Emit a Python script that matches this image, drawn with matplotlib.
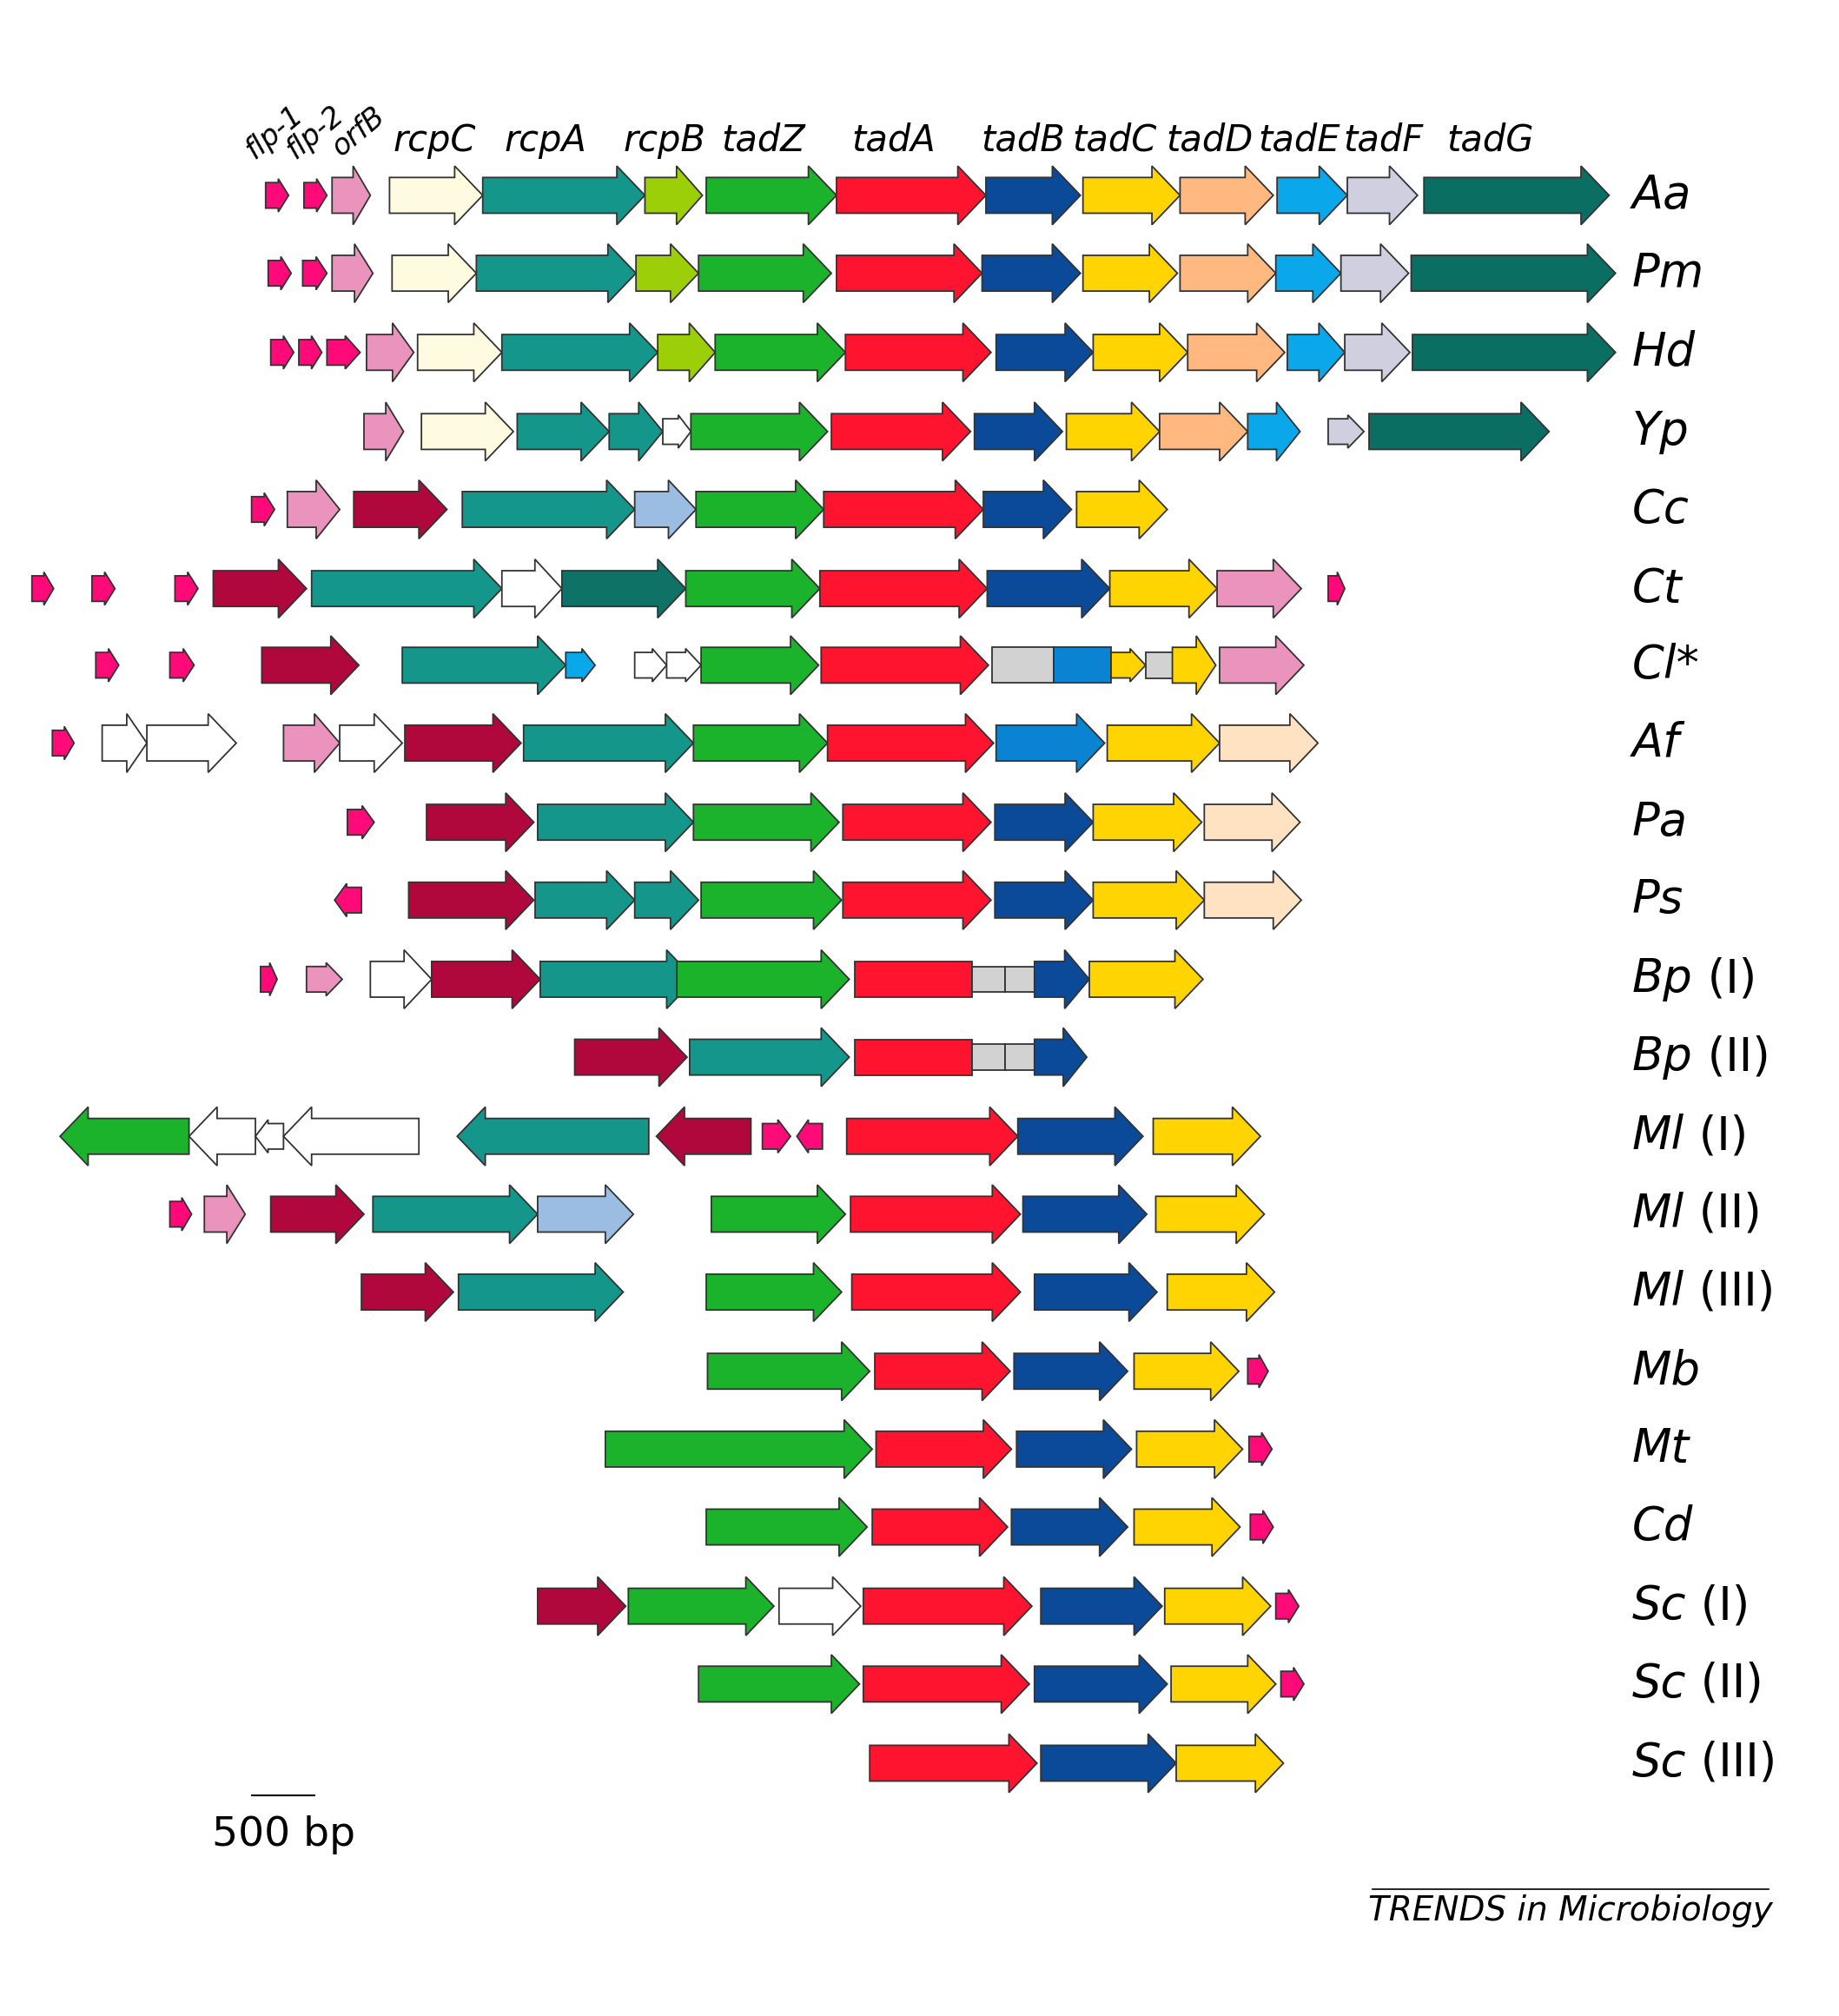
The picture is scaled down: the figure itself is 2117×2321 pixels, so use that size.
import matplotlib
matplotlib.use('Agg')
import matplotlib.pyplot as plt
from matplotlib.patches import Polygon

# colours
FLP = '#ff0a78'; ORFB = '#ea94bd'; RCPC = '#fffbe0'; RCPA = '#14968a'; RCPB = '#9dcf08'
TADZ = '#1cb32c'; TADA = '#ff1430'; TADB = '#0a4a98'; TADC = '#ffd400'; TADD = '#ffb880'
TADE = '#0aa8ea'; TADF = '#cfcfe0'; TADG = '#0a6e62'; DRED = '#b0083c'; LBLU = '#9cbde2'
WHT = '#ffffff'; GRY = '#d2d2d2'; LPCH = '#ffe2c2'; DTL = '#0e7266'; MBLU = '#0a84d2'

# species rows: (start, end, colour, direction) direction 1 right, -1 left, 0 box
rows = {
    'Aa': [(208, 226, FLP, 1), (238, 256, FLP, 1), (260, 290, ORFB, 1), (305, 378, RCPC, 1),
           (378, 505, RCPA, 1), (505, 550, RCPB, 1), (553, 655, TADZ, 1), (655, 772, TADA, 1),
           (772, 846, TADB, 1), (848, 924, TADC, 1), (924, 997, TADD, 1), (1000, 1055, TADE, 1),
           (1055, 1110, TADF, 1), (1115, 1260, TADG, 1)],
    'Pm': [(210, 228, FLP, 1), (237, 256, FLP, 1), (260, 292, ORFB, 1), (307, 373, RCPC, 1),
           (373, 498, RCPA, 1), (498, 547, RCPB, 1), (547, 651, TADZ, 1), (655, 769, TADA, 1),
           (769, 846, TADB, 1), (848, 922, TADC, 1), (924, 999, TADD, 1), (999, 1050, TADE, 1),
           (1050, 1103, TADF, 1), (1105, 1265, TADG, 1)],
    'Hd': [(212, 230, FLP, 1), (234, 252, FLP, 1), (256, 282, FLP, 1), (287, 324, ORFB, 1),
           (327, 393, RCPC, 1), (393, 515, RCPA, 1), (515, 560, RCPB, 1), (560, 662, TADZ, 1),
           (662, 776, TADA, 1), (780, 856, TADB, 1), (856, 930, TADC, 1), (930, 1006, TADD, 1),
           (1008, 1053, TADE, 1), (1053, 1104, TADF, 1), (1106, 1265, TADG, 1)],
    'Yp': [(285, 316, ORFB, 1), (330, 402, RCPC, 1), (405, 477, RCPA, 1), (477, 519, RCPA, 1),
           (519, 541, WHT, 1), (541, 648, TADZ, 1), (651, 760, TADA, 1), (763, 832, TADB, 1),
           (835, 908, TADC, 1), (908, 977, TADD, 1), (977, 1018, TADE, 1), (1040, 1068, TADF, 1),
           (1072, 1213, TADG, 1)],
    'Cc': [(197, 215, FLP, 1), (225, 266, ORFB, 1), (277, 350, DRED, 1), (362, 497, RCPA, 1),
           (497, 545, LBLU, 1), (545, 645, TADZ, 1), (645, 770, TADA, 1), (770, 839, TADB, 1),
           (843, 914, TADC, 1)],
    'Ct': [(25, 42, FLP, 1), (72, 90, FLP, 1), (137, 155, FLP, 1), (167, 240, DRED, 1),
           (244, 393, RCPA, 1), (393, 440, WHT, 1), (440, 537, DTL, 1), (537, 642, TADZ, 1),
           (642, 773, TADA, 1), (773, 869, TADB, 1), (869, 953, TADC, 1), (953, 1019, ORFB, 1),
           (1040, 1053, FLP, 1)],
    'Cl*': [(75, 93, FLP, 1), (133, 152, FLP, 1), (205, 281, DRED, 1), (315, 443, RCPA, 1),
            (443, 466, TADE, 1), (497, 522, WHT, 1), (522, 549, WHT, 1), (549, 641, TADZ, 1),
            (643, 774, TADA, 1), (777, 825, GRY, 0), (825, 870, MBLU, 0), (870, 897, TADC, 1),
            (897, 918, GRY, 0), (918, 952, TADC, 1), (955, 1021, ORFB, 1)],
    'Af': [(41, 58, FLP, 1), (80, 115, WHT, 1), (115, 185, WHT, 1), (222, 266, ORFB, 1),
           (266, 315, WHT, 1), (317, 408, DRED, 1), (410, 543, RCPA, 1), (543, 648, TADZ, 1),
           (648, 778, TADA, 1), (780, 865, MBLU, 1), (867, 955, TADC, 1), (955, 1032, LPCH, 1)],
    'Pa': [(272, 293, FLP, 1), (334, 418, DRED, 1), (421, 543, RCPA, 1), (543, 657, TADZ, 1),
           (660, 776, TADA, 1), (779, 856, TADB, 1), (856, 941, TADC, 1), (943, 1018, LPCH, 1)],
    'Ps': [(262, 283, FLP, -1), (320, 418, DRED, 1), (419, 497, RCPA, 1), (497, 547, RCPA, 1),
           (549, 659, TADZ, 1), (660, 776, TADA, 1), (779, 856, TADB, 1), (856, 943, TADC, 1),
           (943, 1019, LPCH, 1)],
    'Bp (I)': [(204, 217, FLP, 1), (240, 268, ORFB, 1), (290, 338, WHT, 1), (338, 423, DRED, 1),
               (423, 544, RCPA, 1), (530, 665, TADZ, 1), (669, 761, TADA, 0), (761, 787, GRY, 0),
               (787, 810, GRY, 0), (810, 853, TADB, 1), (853, 942, TADC, 1)],
    'Bp (II)': [(450, 538, DRED, 1), (540, 665, RCPA, 1), (669, 761, TADA, 0), (761, 787, GRY, 0),
                (787, 810, GRY, 0), (810, 851, TADB, 1)],
    'Ml (I)': [(47, 148, TADZ, -1), (148, 200, WHT, -1), (200, 222, WHT, -1), (222, 328, WHT, -1),
               (358, 508, RCPA, -1), (514, 588, DRED, -1), (597, 619, FLP, 1), (624, 644, FLP, -1),
               (663, 797, TADA, 1), (797, 895, TADB, 1), (903, 987, TADC, 1)],
    'Ml (II)': [(133, 150, FLP, 1), (160, 192, ORFB, 1), (212, 285, DRED, 1), (292, 421, RCPA, 1),
                (421, 496, LBLU, 1), (557, 662, TADZ, 1), (666, 799, TADA, 1), (801, 898, TADB, 1),
                (905, 990, TADC, 1)],
    'Ml (III)': [(283, 355, DRED, 1), (359, 488, RCPA, 1), (553, 659, TADZ, 1), (667, 799, TADA, 1),
                 (810, 906, TADB, 1), (914, 998, TADC, 1)],
    'Mb': [(554, 681, TADZ, 1), (685, 791, TADA, 1), (794, 883, TADB, 1), (888, 970, TADC, 1),
           (977, 993, FLP, 1)],
    'Mt': [(474, 683, TADZ, 1), (686, 792, TADA, 1), (796, 886, TADB, 1), (890, 973, TADC, 1),
           (978, 996, FLP, 1)],
    'Cd': [(553, 679, TADZ, 1), (683, 789, TADA, 1), (792, 883, TADB, 1), (888, 971, TADC, 1),
           (979, 997, FLP, 1)],
    'Sc (I)': [(421, 490, DRED, 1), (492, 606, TADZ, 1), (610, 674, WHT, 1), (676, 808, TADA, 1),
               (815, 910, TADB, 1), (912, 995, TADC, 1), (999, 1017, FLP, 1)],
    'Sc (II)': [(547, 673, TADZ, 1), (676, 806, TADA, 1), (810, 914, TADB, 1), (917, 999, TADC, 1),
                (1003, 1021, FLP, 1)],
    'Sc (III)': [(681, 812, TADA, 1), (815, 921, TADB, 1), (921, 1005, TADC, 1)],
}
row_y = [153, 214, 276, 338, 399, 461, 521, 582, 644, 705, 767, 828,
         890, 951, 1012, 1074, 1135, 1196, 1258, 1319, 1381]

gene_names = ['rcpC', 'rcpA', 'rcpB', 'tadZ', 'tadA', 'tadB', 'tadC', 'tadD', 'tadE', 'tadF', 'tadG']
gene_x = [340, 427, 520, 598, 700, 801, 873, 947, 1017, 1083, 1167]
small_names = ['flp-1', 'flp-2', 'orfB']
small_x = [222, 254, 288]


def arrow(ax, x0, x1, y, color, d):
    small = (x1 - x0) < 30
    bh = 10 if small else 14
    hh = 13 if small else 23
    if d == 0:
        pts = [(x0, y - bh), (x1, y - bh), (x1, y + bh), (x0, y + bh)]
    else:
        hl = min(22, (x1 - x0) * 0.45)
        if d > 0:
            pts = [(x0, y - bh), (x1 - hl, y - bh), (x1 - hl, y - hh), (x1, y),
                   (x1 - hl, y + hh), (x1 - hl, y + bh), (x0, y + bh)]
        else:
            pts = [(x1, y - bh), (x0 + hl, y - bh), (x0 + hl, y - hh), (x0, y),
                   (x0 + hl, y + hh), (x0 + hl, y + bh), (x1, y + bh)]
    ax.add_patch(Polygon(pts, closed=True, facecolor=color, edgecolor='#333333', lw=1.3))


fig = plt.figure(figsize=(21.17, 23.21), dpi=100)
ax = fig.add_axes([0, 0, 1, 1])
ax.set_xlim(0, 1440)
ax.set_ylim(1579, 0)
ax.axis('off')

for (name, genes), y in zip(rows.items(), row_y):
    for x0, x1, c, d in genes:
        arrow(ax, x0, x1, y, c, d)
    if ' ' in name:
        sp, num = name.split(' ')
        t = ax.text(1278, y, sp, style='italic', fontsize=38, va='center', ha='left')
        ax.annotate(' ' + num, xycoords=t, xy=(1, 0.5), va='center', ha='left', fontsize=38)
    else:
        ax.text(1278, y, name, style='italic', fontsize=38, va='center', ha='left')

for n, x in zip(gene_names, gene_x):
    ax.text(x, 110, n, style='italic', fontsize=30, ha='center', va='center')
for n, x in zip(small_names, small_x):
    ax.text(x, 112, n, style='italic', fontsize=24, ha='center', va='bottom',
            rotation=40, rotation_mode='anchor')

ax.plot([197, 246], [1406, 1406], color='black', lw=1.5)
ax.text(222, 1437, '500 bp', fontsize=34, ha='center', va='center')
ax.plot([1075, 1385], [1480, 1480], color='black', lw=1.2)
ax.text(1230, 1497, 'TRENDS in Microbiology', style='italic', fontsize=28, ha='center', va='center')

fig.savefig('out.png', dpi=100)
